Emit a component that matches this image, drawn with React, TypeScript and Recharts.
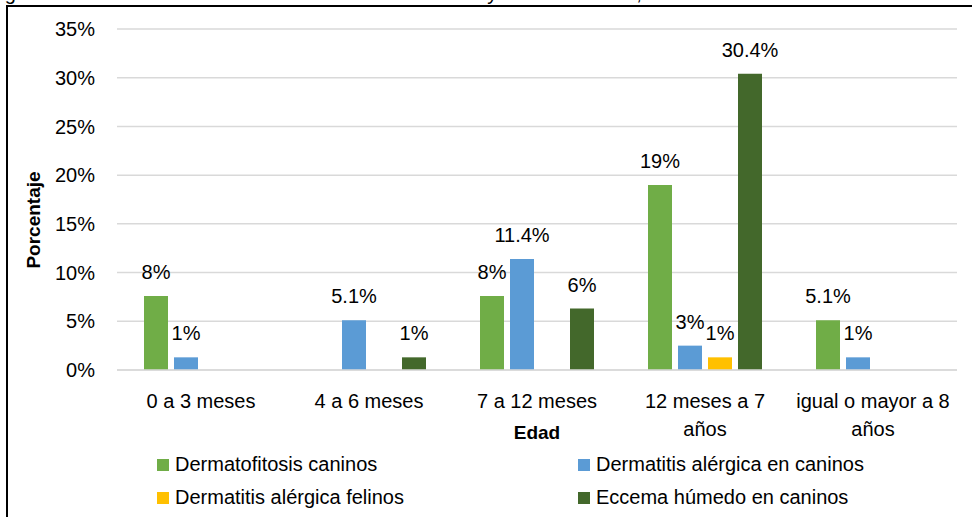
import React from "react";
import { BarChart, Bar, XAxis, YAxis, CartesianGrid, Legend, LabelList } from "recharts";

const CATEGORIES = ["0 a 3 meses", "4 a 6 meses", "7 a 12 meses", "12 meses a 7\naños", "igual o mayor a 8\naños"];

const DERMATOFITOSIS = [7.6, null, 7.6, 19.0, 5.1];
const ALERGICA_CANINOS = [1.3, 5.1, 11.4, 2.5, 1.3];
const ALERGICA_FELINOS = [null, null, null, 1.3, null];
const ECCEMA = [null, 1.3, 6.3, 30.4, null];

const LBL_DERMATOFITOSIS = ["8%", "", "8%", "19%", "5.1%"];
const LBL_ALERGICA_CANINOS = ["1%", "5.1%", "11.4%", "3%", "1%"];
const LBL_ALERGICA_FELINOS = ["", "", "", "1%", ""];
const LBL_ECCEMA = ["", "1%", "6%", "30.4%", ""];

const Y_TICKS = [0, 5, 10, 15, 20, 25, 30, 35];

const FONT = "'Liberation Sans', Arial, sans-serif";

const data = CATEGORIES.map((name, i) => ({
  name,
  dermato: DERMATOFITOSIS[i],
  alergCan: ALERGICA_CANINOS[i],
  alergFel: ALERGICA_FELINOS[i],
  eccema: ECCEMA[i],
  lDermato: LBL_DERMATOFITOSIS[i],
  lAlergCan: LBL_ALERGICA_CANINOS[i],
  lAlergFel: LBL_ALERGICA_FELINOS[i],
  lEccema: LBL_ECCEMA[i],
}));

const SERIES = [
  { key: "dermato", label: "lDermato", name: "Dermatofitosis caninos", color: "#70ad47" },
  { key: "alergCan", label: "lAlergCan", name: "Dermatitis alérgica en caninos", color: "#5b9bd5" },
  { key: "alergFel", label: "lAlergFel", name: "Dermatitis alérgica felinos", color: "#ffc000" },
  { key: "eccema", label: "lEccema", name: "Eccema húmedo en caninos", color: "#43682b" },
];

function WrapTick(props: any) {
  const { x, y, payload } = props;
  const lines = String(payload.value).split("\n");
  return (
    <text x={x} y={y} textAnchor="middle" fill="#000" fontSize={20} fontFamily={FONT}>
      {lines.map((l, i) => (
        <tspan key={i} x={x} dy={i === 0 ? 38 : 28}>
          {l}
        </tspan>
      ))}
    </text>
  );
}

// legend keeps series order (recharts 3 sorts payload by default)
function LegendGrid() {
  return (
    <div
      style={{
        display: "grid",
        gridTemplateColumns: "421px 330px",
        rowGap: 12,
        paddingLeft: 157,
        paddingTop: 7,
        fontFamily: FONT,
        fontSize: 20,
        color: "#000",
      }}
    >
      {SERIES.map((s) => (
        <div key={s.key} style={{ display: "flex", alignItems: "center", height: 21, whiteSpace: "nowrap" }}>
          <span style={{ width: 12, height: 12, background: s.color, marginRight: 6, display: "inline-block" }} />
          {s.name}
        </div>
      ))}
    </div>
  );
}

export default function App() {
  return (
    <div
      style={{
        position: "fixed",
        left: 0,
        top: 0,
        width: 972,
        height: 517,
        overflow: "hidden",
        background: "#fff",
      }}
    >
      {/* caption above the chart frame, mostly outside the page like in the source */}
      <div
        style={{
          position: "absolute",
          left: -12,
          top: -17,
          fontFamily: FONT,
          fontSize: 20,
          lineHeight: "20px",
          whiteSpace: "nowrap",
          color: "#000",
        }}
      >
        Figura 10. Resultado de casos de dermatitis en caninos y felinos machos, año 2019
      </div>
      <div
        style={{
          position: "absolute",
          left: 6,
          top: 5,
          width: 1000,
          height: 600,
          border: "2px solid #000",
        }}
      />
      <div style={{ position: "absolute", left: 0, top: 0 }}>
        <BarChart
          width={972}
          height={517}
          data={data}
          margin={{ top: 29, right: 15, bottom: 0, left: 40 }}
          barSize={24}
          barGap={6}
        >
          <CartesianGrid vertical={false} stroke="#d9d9d9" strokeWidth={1.5} />
          <XAxis
            dataKey="name"
            height={77}
            tickLine={false}
            tickSize={0}
            tickMargin={0}
            axisLine={{ stroke: "#d9d9d9", strokeWidth: 1.5 }}
            tick={<WrapTick />}
            interval={0}
            label={({ viewBox }: any) => (
              <text
                x={viewBox.x + viewBox.width / 2}
                y={viewBox.y + 69}
                textAnchor="middle"
                fontFamily={FONT}
                fontSize={19}
                fontWeight="bold"
                fill="#000"
              >
                Edad
              </text>
            )}
          />
          <YAxis
            width={77}
            domain={[0, 35]}
            ticks={Y_TICKS}
            interval={0}
            tickFormatter={(v: number) => `${v}%`}
            tickLine={false}
            axisLine={false}
            tickSize={0}
            tickMargin={22}
            tick={{ fill: "#000", fontSize: 20, fontFamily: FONT }}
            label={() => (
              <text
                x={33}
                y={220}
                transform="rotate(-90 33 220)"
                textAnchor="middle"
                dominantBaseline="central"
                fontFamily={FONT}
                fontSize={19}
                fontWeight="bold"
                fill="#000"
              >
                Porcentaje
              </text>
            )}
          />
          <Legend
            verticalAlign="bottom"
            height={70}
            content={<LegendGrid />}
            wrapperStyle={{ left: 0, top: 447, width: 972, height: 70 }}
          />
          {SERIES.map((s) => (
            <Bar key={s.key} dataKey={s.key} name={s.name} fill={s.color} isAnimationActive={false}>
              <LabelList
                dataKey={s.label}
                position="top"
                offset={17}
                fill="#000"
                fontSize={20}
                fontFamily={FONT}
              />
            </Bar>
          ))}
        </BarChart>
      </div>
    </div>
  );
}
